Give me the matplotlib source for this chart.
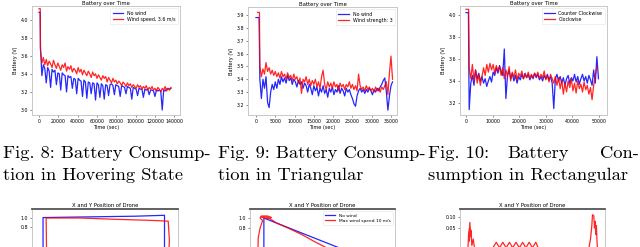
import numpy as np
import matplotlib
matplotlib.use("Agg")
import matplotlib.pyplot as plt

# ---------------- data ----------------
# Fig. 8 hovering: battery voltage (V)
hover_prefix_t_blue = [0, 1200]
hover_prefix_v_blue = [4.08, 4.08]
hover_step = 1500
hover_blue = [
    3.70, 3.38, 3.50, 3.46, 3.30, 3.47, 3.43, 3.25, 3.45, 3.42,
    3.44, 3.28, 3.41, 3.40, 3.22, 3.41, 3.39, 3.38, 3.20, 3.38,
    3.36, 3.37, 3.24, 3.35, 3.34, 3.18, 3.35, 3.33, 3.32, 3.15,
    3.33, 3.31, 3.13, 3.31, 3.30, 3.18, 3.30, 3.29, 3.11, 3.30,
    3.28, 3.14, 3.29, 3.27, 3.12, 3.28, 3.27, 3.16, 3.28, 3.29,
    3.27, 3.17, 3.28, 3.27, 3.26, 3.15, 3.27, 3.26, 3.25, 3.18,
    3.26, 3.25, 3.24, 3.12, 3.25, 3.24, 3.23, 3.16, 3.24, 3.23,
    3.23, 3.14, 3.23, 3.22, 3.23, 3.17, 3.22, 3.22, 3.21, 3.15,
    3.22, 3.21, 3.22, 3.21, 3.00, 3.22, 3.21, 3.23, 3.24, 3.23,
    3.24]
hover_prefix_t_red = [0, 1300]
hover_prefix_v_red = [4.12, 4.12]
hover_red = [
    3.66, 3.52, 3.58, 3.50, 3.56, 3.49, 3.54, 3.51, 3.47, 3.55,
    3.50, 3.46, 3.52, 3.48, 3.44, 3.50, 3.47, 3.52, 3.43, 3.48,
    3.45, 3.49, 3.42, 3.46, 3.44, 3.40, 3.47, 3.42, 3.45, 3.39,
    3.44, 3.41, 3.38, 3.43, 3.40, 3.36, 3.42, 3.38, 3.40, 3.35,
    3.39, 3.36, 3.33, 3.38, 3.35, 3.37, 3.31, 3.36, 3.33, 3.30,
    3.35, 3.31, 3.33, 3.29, 3.32, 3.30, 3.27, 3.31, 3.29, 3.26,
    3.30, 3.27, 3.29, 3.25, 3.28, 3.26, 3.24, 3.28, 3.25, 3.27,
    3.23, 3.26, 3.24, 3.27, 3.22, 3.25, 3.23, 3.26, 3.22, 3.24,
    3.21, 3.25, 3.23, 3.20, 3.24, 3.22, 3.26, 3.21, 3.24, 3.22,
    3.25]
hover_labels = ["No wind", "Wind speed, 3.6 m/s"]

# Fig. 9 triangular
tri_prefix_t_blue = [0, 800]
tri_prefix_v_blue = [3.88, 3.88]
tri_prefix_t_red = [400, 900]
tri_prefix_v_red = [3.92, 3.92]
tri_start = 1000
tri_step = 400
tri_blue = [
    3.40, 3.25, 3.40, 3.33, 3.42, 3.22, 3.18, 3.30, 3.36, 3.32,
    3.38, 3.33, 3.40, 3.36, 3.42, 3.38, 3.41, 3.37, 3.43, 3.39,
    3.41, 3.36, 3.40, 3.38, 3.34, 3.39, 3.36, 3.38, 3.33, 3.37,
    3.35, 3.30, 3.36, 3.33, 3.28, 3.35, 3.31, 3.34, 3.27, 3.33,
    3.30, 3.35, 3.29, 3.32, 3.26, 3.33, 3.30, 3.34, 3.28, 3.32,
    3.30, 3.35, 3.29, 3.33, 3.31, 3.27, 3.33, 3.30, 3.32, 3.28,
    3.25, 3.21, 3.19, 3.27, 3.31, 3.33, 3.30, 3.32, 3.29, 3.32,
    3.30, 3.33, 3.31, 3.28, 3.32, 3.30, 3.33, 3.31, 3.34, 3.36,
    3.39, 3.41, 3.30, 3.16, 3.27, 3.35, 3.38]
tri_red = [
    3.50, 3.42, 3.48, 3.44, 3.53, 3.46, 3.49, 3.44, 3.47, 3.43,
    3.46, 3.42, 3.45, 3.41, 3.46, 3.42, 3.44, 3.40, 3.45, 3.41,
    3.43, 3.39, 3.44, 3.40, 3.42, 3.37, 3.41, 3.29, 3.40, 3.38,
    3.42, 3.36, 3.40, 3.35, 3.39, 3.36, 3.40, 3.34, 3.38, 3.33,
    3.42, 3.47, 3.36, 3.32, 3.38, 3.34, 3.37, 3.33, 3.38, 3.34,
    3.36, 3.31, 3.37, 3.34, 3.36, 3.32, 3.36, 3.34, 3.38, 3.33,
    3.36, 3.32, 3.35, 3.31, 3.44, 3.35, 3.32, 3.34, 3.31, 3.35,
    3.32, 3.34, 3.31, 3.33, 3.30, 3.34, 3.31, 3.33, 3.30, 3.34,
    3.32, 3.35, 3.38, 3.28, 3.45, 3.58, 3.40]
tri_labels = ["No wind", "Wind strength: 3"]

# Fig. 10 rectangular
rect_prefix_t_blue = [0, 900]
rect_prefix_v_blue = [4.02, 4.02]
rect_prefix_t_red = [0, 1000]
rect_prefix_v_red = [4.05, 4.05]
rect_start = 1200
rect_step = 600
rect_blue = [
    3.14, 3.38, 3.45, 3.36, 3.50, 3.42, 3.47, 3.40, 3.44, 3.38,
    3.42, 3.35, 3.40, 3.44, 3.39, 3.48, 3.45, 3.52, 3.47, 3.54,
    3.49, 3.45, 3.69, 3.24, 3.45, 3.50, 3.42, 3.47, 3.40, 3.45,
    3.38, 3.44, 3.41, 3.46, 3.42, 3.47, 3.43, 3.46, 3.41, 3.45,
    3.42, 3.47, 3.43, 3.46, 3.41, 3.44, 3.40, 3.45, 3.42, 3.46,
    3.41, 3.44, 3.38, 3.15, 3.42, 3.46, 3.40, 3.44, 3.38, 3.43,
    3.36, 3.42, 3.45, 3.38, 3.43, 3.40, 3.46, 3.39, 3.44, 3.37,
    3.42, 3.46, 3.40, 3.44, 3.38, 3.45, 3.41, 3.36, 3.50, 3.38,
    3.62, 3.42]
rect_red = [
    3.52, 3.42, 3.55, 3.40, 3.50, 3.38, 3.46, 3.36, 3.44, 3.52,
    3.45, 3.55, 3.48, 3.56, 3.50, 3.55, 3.47, 3.54, 3.49, 3.53,
    3.45, 3.52, 3.42, 3.50, 3.44, 3.53, 3.40, 3.48, 3.43, 3.50,
    3.41, 3.47, 3.44, 3.49, 3.42, 3.46, 3.43, 3.48, 3.42, 3.46,
    3.43, 3.47, 3.44, 3.48, 3.42, 3.46, 3.43, 3.49, 3.41, 3.45,
    3.39, 3.46, 3.42, 3.38, 3.44, 3.36, 3.43, 3.33, 3.41, 3.28,
    3.38, 3.30, 3.40, 3.34, 3.42, 3.31, 3.38, 3.29, 3.40, 3.33,
    3.37, 3.30, 3.39, 3.32, 3.36, 3.28, 3.34, 3.23, 3.36, 3.45,
    3.53]
rect_labels = ["Counter Clockwise", "Clockwise"]

# Bottom row: X and Y position of drone
sq_x_blue = [0.0, 0.0, 0.25, 0.5, 0.75, 0.99, 0.99, 0.0]
sq_y_blue = [0.0, 1.01, 1.02, 1.03, 1.04, 1.06, 0.0, 0.0]
sq_x_red = [0.03, 0.025, 0.3, 0.6, 0.85, 1.02, 1.03, 1.02, 0.03]
sq_y_red = [0.0, 1.0, 1.0, 0.97, 0.95, 0.93, 0.5, 0.0, 0.0]

tri_x_blue = [0.0, 0.0, 1.0, 0.0]
tri_y_blue = [0.0, 1.0, 0.0, 0.0]
tri_x_red = [-0.05, -0.045, -0.03, -0.01, -0.03, -0.02, 0.03, 0.06, 0.02,
             -0.02, 0.01, 0.04, 0.1, 0.2, 0.3, 0.4, 0.5, 0.7, 1.0]
tri_y_red = [0.0, 0.6, 0.8, 0.95, 1.0, 1.04, 1.04, 1.01, 0.99,
             1.02, 1.03, 1.0, 0.9, 0.79, 0.67, 0.53, 0.40, 0.2, -0.05]
pos_labels = ["No wind", "Max wind speed 10 m/s"]

rc_x_red = [-0.98, -0.97, -0.96, -0.955, -0.965, -0.95, -0.94, -0.935, -0.92, -0.9, -0.88,
            -0.6, -0.55, -0.5, -0.45, -0.4, -0.35, -0.3, -0.25, -0.2, -0.15, -0.1,
            -0.05, 0.0, 0.05, 0.1, 0.85, 0.88, 0.9, 0.91, 0.93, 0.94, 0.95, 0.96,
            0.97, 0.98, 0.99]
rc_y_red = [-0.05, 0.02, -0.01, 0.05, 0.0, 0.075, 0.01, 0.04, -0.03, 0.0, -0.04,
            -0.04, -0.015, -0.04, -0.015, -0.04, -0.015, -0.04, -0.015, -0.04, -0.015, -0.04,
            -0.015, -0.04, -0.015, -0.05, -0.05, 0.0, 0.06, 0.11, 0.105, 0.05, 0.08, 0.02,
            0.06, -0.02, -0.05]

# ---------------- figure ----------------
W, H = 640, 247
fig = plt.figure(figsize=(W / 100, H / 100), dpi=100)

BLUE = "#0000ff"
RED = "#ff0000"
SPINE = "#c8c8c8"


def add_axes(left, top, right, bottom):
    return fig.add_axes([left / W, 1 - bottom / H, (right - left) / W, (bottom - top) / H])


def style(ax, fs=3.4):
    for s in ax.spines.values():
        s.set_color(SPINE)
        s.set_linewidth(0.7)
    ax.tick_params(labelsize=fs, length=1.6, width=0.4, pad=1.2, color="#333333")


def series(prefix_t, prefix_v, start, step, vals):
    t = list(prefix_t) + [start + step * i for i in range(len(vals))]
    v = list(prefix_v) + list(vals)
    return t, v


def battery_panel(ax, tb, vb, tr, vr, labels, xlim, ylim, xticks, yticks):
    ax.plot(tb, vb, color=BLUE, lw=0.9, alpha=0.85, label=labels[0])
    ax.plot(tr, vr, color=RED, lw=0.9, alpha=0.85, label=labels[1])
    ax.set_xlim(*xlim)
    ax.set_ylim(*ylim)
    ax.set_xticks(xticks)
    ax.set_yticks(yticks)
    ax.set_yticklabels([f"{y:.1f}" for y in yticks])
    style(ax)
    ax.set_title("Battery over Time", fontsize=3.8, pad=0.6)
    ax.set_xlabel("Time (sec)", fontsize=3.6, labelpad=1)
    ax.set_ylabel("Battery (V)", fontsize=3.6, labelpad=1.5)
    leg = ax.legend(loc="upper right", fontsize=3.4, frameon=True, handlelength=2.2,
                    borderpad=0.5, labelspacing=0.3, fancybox=True)
    leg.get_frame().set_edgecolor("#dddddd")
    leg.get_frame().set_linewidth(0.4)


ax1 = add_axes(32, 6, 180, 115)
tb, vb = series(hover_prefix_t_blue, hover_prefix_v_blue, hover_step, hover_step, hover_blue)
tr, vr = series(hover_prefix_t_red, hover_prefix_v_red, hover_step, hover_step, hover_red)
battery_panel(ax1, tb, vb, tr, vr, hover_labels, (-7240, 145900), (2.945, 4.15),
              range(0, 140001, 20000), [3.0, 3.2, 3.4, 3.6, 3.8, 4.0])

ax2 = add_axes(248, 7, 397, 115)
tb, vb = series(tri_prefix_t_blue, tri_prefix_v_blue, tri_start, tri_step, tri_blue)
tr, vr = series(tri_prefix_t_red, tri_prefix_v_red, tri_start, tri_step, tri_red)
battery_panel(ax2, tb, vb, tr, vr, tri_labels, (-2074, 36560), (3.122, 3.962),
              range(0, 35001, 5000), [3.2, 3.3, 3.4, 3.5, 3.6, 3.7, 3.8, 3.9])

ax3 = add_axes(460, 6, 607, 115)
tb, vb = series(rect_prefix_t_blue, rect_prefix_v_blue, rect_start, rect_step, rect_blue)
tr, vr = series(rect_prefix_t_red, rect_prefix_v_red, rect_start, rect_step, rect_red)
battery_panel(ax3, tb, vb, tr, vr, rect_labels, (-2256, 53010), (3.091, 4.08),
              range(0, 50001, 10000), [3.2, 3.4, 3.6, 3.8, 4.0])


def pos_panel(ax, xlim, ylim, yticks, fmt):
    ax.set_xlim(*xlim)
    ax.set_ylim(*ylim)
    ax.set_yticks(yticks)
    ax.set_yticklabels([fmt.format(y) for y in yticks])
    ax.set_xticks([])
    style(ax)
    ax.spines["top"].set_color("#555555")
    ax.spines["top"].set_linewidth(1.3)
    ax.set_title("X and Y Position of Drone", fontsize=3.8, pad=1.5)


ax4 = add_axes(32, 209, 178, 267.5)
ax4.plot(sq_x_blue, sq_y_blue, color=BLUE, lw=0.9, alpha=0.85)
ax4.plot(sq_x_red, sq_y_red, color=RED, lw=0.9, alpha=0.85)
pos_panel(ax4, (-0.09, 1.1), (-0.1, 1.2), [0.8, 1.0], "{:.1f}")

ax5 = add_axes(250, 209, 395, 273)
ax5.plot(tri_x_blue, tri_y_blue, color=BLUE, lw=0.9, alpha=0.85, label=pos_labels[0])
ax5.plot(tri_x_red, tri_y_red, color=RED, lw=0.9, alpha=0.85, label=pos_labels[1])
pos_panel(ax5, (-0.11, 1.04), (-0.1, 1.18), [0.8, 1.0], "{:.1f}")
leg = ax5.legend(loc="upper right", fontsize=3.2, handlelength=2.2, borderpad=0.5,
                 labelspacing=0.3)
leg.get_frame().set_edgecolor("#dddddd")
leg.get_frame().set_linewidth(0.4)

ax6 = add_axes(460, 209, 605, 261)
ax6.plot(rc_x_red, rc_y_red, color=RED, lw=0.9, alpha=0.85)
pos_panel(ax6, (-1.1, 1.1), (-0.1, 0.136), [0.05, 0.10], "{:.2f}")

# ---------------- captions ----------------
CAP = dict(fontfamily="cmr10", fontsize=13.3, va="baseline")


def fx(x):
    return x / W


def fy(y):
    return 1 - y / H


fig.text(fx(3), fy(158), "Fig. 8: Battery Consump-", ha="left", **CAP)
fig.text(fx(3), fy(180), "tion in Hovering State", ha="left", **CAP)
fig.text(fx(218), fy(158), "Fig. 9: Battery Consump-", ha="left", **CAP)
fig.text(fx(218), fy(180), "tion in Triangular", ha="left", **CAP)
fig.text(fx(428), fy(158), "Fig. 10:", ha="left", **CAP)
fig.text(fx(538), fy(158), "Battery", ha="center", **CAP)
fig.text(fx(639), fy(158), "Con-", ha="right", **CAP)
fig.text(fx(428), fy(180), "sumption in Rectangular", ha="left", **CAP)

fig.savefig("out.png", dpi=100)
